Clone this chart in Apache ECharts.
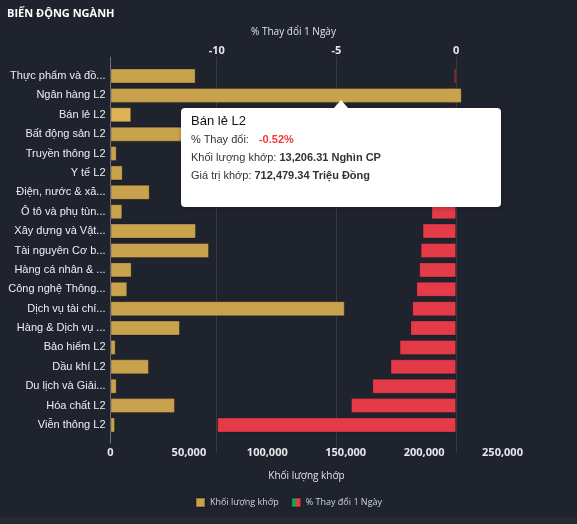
<!DOCTYPE html>
<html><head><meta charset="utf-8">
<script src="https://cdn.jsdelivr.net/npm/echarts@6/dist/echarts.min.js"></script>
<style>
html,body{margin:0;padding:0;background:#262a33;}
#chart{width:577px;height:517px;background:#1f232d;}
</style></head><body><div id="chart"></div>
<script>
const categories = ["Thực phẩm và đồ uống L2","Ngân hàng L2","Bán lẻ L2","Bất động sản L2","Truyền thông L2","Y tế L2","Điện, nước & xăng dầu khí đốt L2","Ô tô và phụ tùng L2","Xây dựng và Vật liệu L2","Tài nguyên Cơ bản L2","Hàng cá nhân & Gia dụng L2","Công nghệ Thông tin L2","Dịch vụ tài chính L2","Hàng & Dịch vụ Công nghiệp L2","Bảo hiểm L2","Dầu khí L2","Du lịch và Giải trí L2","Hóa chất L2","Viễn thông L2"];
const volume = [54300, 224000, 13206.31, 180000, 3950, 7780, 25000, 7530, 54500, 62800, 13500, 10700, 149400, 44300, 3300, 24500, 3950, 41100, 2870];
const change = [-0.09, -0.30, -0.52, -0.61, -0.74, -0.86, -0.97, -1.03, -1.40, -1.48, -1.54, -1.66, -1.83, -1.91, -2.36, -2.74, -3.50, -4.39, -9.98];
const tradeValue = [null, null, 712479.34, null, null, null, null, null, null, null, null, null, null, null, null, null, null, null, null];
const volumeTicks = [0, 50000, 100000, 150000, 200000, 250000];
const changeTicks = [-15, -10, -5, 0];

const GOLD = '#c9a24e', RED = '#e33b48', GREEN = '#1e9e5b';
const fmt2 = v => v == null ? '-' : v.toLocaleString('en-US', {minimumFractionDigits: 2, maximumFractionDigits: 2});
const shortName = s => s.length > 15 ? s.slice(0, 15) + '...' : s;

const chart = echarts.init(document.getElementById('chart'));
const option = {
  animation: false,
  title: {text: 'BIẾN ĐỘNG NGÀNH', left: 2, top: 3,
    textStyle: {color: '#ffffff', fontSize: 11, fontWeight: 'bold', fontFamily: 'Open Sans'}},
  legend: {
    top: 492, left: 'center', itemWidth: 9, itemHeight: 9, itemGap: 12,
    textStyle: {color: '#d0d4da', fontSize: 9, fontFamily: 'Open Sans'},
    data: [
      {name: 'Khối lượng khớp', icon: 'rect', itemStyle: {color: GOLD}},
      {name: '% Thay đổi 1 Ngày', icon: 'rect', itemStyle: {color: new echarts.graphic.LinearGradient(0, 0, 1, 0, [
        {offset: 0, color: GREEN}, {offset: 0.5, color: GREEN}, {offset: 0.5, color: RED}, {offset: 1, color: RED}])}}
    ]
  },
  tooltip: {
    trigger: 'axis', axisPointer: {type: 'none'}, alwaysShowContent: true, transitionDuration: 0,
    backgroundColor: '#ffffff', borderWidth: 0, padding: [4, 10, 23, 10],
    textStyle: {color: '#333', fontSize: 11, fontFamily: 'Liberation Sans'},
    extraCssText: 'width:300px;border-radius:4px;box-shadow:0 1px 4px rgba(0,0,0,0.25);',
    position: function (point, params, dom, rect, size) {
      return [point[0] - size.contentSize[0] / 2, point[1] + 2];
    },
    formatter: function (params) {
      const arr = Array.isArray(params) ? params : [params];
      const p = arr.find(x => x && x.dataIndex != null);
      if (!p) return '';
      const i = p.dataIndex;
      const c = change[i];
      return '<div style="position:absolute;left:50%;top:-8px;margin-left:-7px;width:0;height:0;border-left:7px solid transparent;border-right:7px solid transparent;border-bottom:8px solid #fff;"></div>' +
        '<div style="font-size:13px;line-height:18px;color:#111;">' + categories[i] + '</div>' +
        '<div style="line-height:18px;">% Thay đổi: <span style="margin-left:7px;color:' + (c < 0 ? '#ef3b3b' : GREEN) + ';font-weight:bold;">' + c.toFixed(2) + '%</span></div>' +
        '<div style="line-height:18px;">Khối lượng khớp: <b>' + fmt2(volume[i]) + ' Nghìn CP</b></div>' +
        '<div style="line-height:18px;">Giá trị khớp: <b>' + fmt2(tradeValue[i]) + ' Triệu Đồng</b></div>';
    }
  },
  grid: [
    {left: 110.5, right: 74.5, top: 66.3, height: 368.4},
    {left: 97, right: 73, top: 66.3, height: 368.4},
    {left: 97, right: 73, top: 57, height: 396},
    {left: 110.5, right: 74.5, top: 57, height: 386}
  ],
  xAxis: [
    {gridIndex: 0, type: 'value', position: 'bottom', min: volumeTicks[0], max: volumeTicks[volumeTicks.length - 1],
      interval: volumeTicks[1] - volumeTicks[0],
      name: 'Khối lượng khớp', nameLocation: 'middle', nameGap: 36,
      nameTextStyle: {color: '#dfe3e8', fontSize: 10, fontFamily: 'Open Sans'},
      axisLine: {show: false, onZero: false}, axisTick: {show: false}, splitLine: {show: false},
      axisLabel: {color: '#e6e8eb', fontSize: 11, fontWeight: 'bold', fontFamily: 'Open Sans', margin: 13,
        formatter: v => v.toLocaleString('en-US')}},
    {gridIndex: 1, type: 'value', min: changeTicks[0], max: 2, show: false, axisLine: {onZero: false}},
    {gridIndex: 2, type: 'value', position: 'top', min: changeTicks[0], max: 2, interval: changeTicks[1] - changeTicks[0],
      name: '% Thay đổi 1 Ngày', nameLocation: 'middle', nameGap: 20,
      nameTextStyle: {color: '#dfe3e8', fontSize: 10, fontFamily: 'Open Sans', padding: [0, 14, 0, 0]},
      axisLine: {show: false, onZero: false}, axisTick: {show: false},
      axisLabel: {color: '#e6e8eb', fontSize: 11, fontWeight: 'bold', fontFamily: 'Open Sans', margin: 1,
        showMinLabel: false, showMaxLabel: false},
      splitLine: {show: true, showMinLine: false, showMaxLine: false, lineStyle: {color: '#363b47', width: 1}}},
    {gridIndex: 3, type: 'value', show: false, axisLine: {onZero: false}}
  ],
  yAxis: [
    {gridIndex: 0, type: 'category', data: categories, inverse: true,
      axisLine: {show: false}, axisTick: {show: false},
      axisLabel: {color: '#eceef1', fontSize: 11, fontFamily: 'Liberation Sans', margin: 5, formatter: shortName}},
    {gridIndex: 1, type: 'category', data: categories, inverse: true, show: false},
    {gridIndex: 2, type: 'value', show: false, axisLine: {onZero: false}},
    {gridIndex: 3, type: 'category', data: [], axisLabel: {show: false}, axisTick: {show: false}, splitLine: {show: false},
      axisLine: {show: true, onZero: false, lineStyle: {color: '#6b7180', width: 1}}}
  ],
  series: [
    {name: '% Thay đổi 1 Ngày', type: 'bar', xAxisIndex: 1, yAxisIndex: 1, data: change, barWidth: 15,
      itemStyle: {color: p => p.value < 0 ? RED : GREEN, borderColor: 'rgba(0,0,0,0.2)', borderWidth: 1}},
    {name: 'Khối lượng khớp', type: 'bar', xAxisIndex: 0, yAxisIndex: 0, data: volume, barWidth: 15,
      itemStyle: {color: GOLD, borderColor: 'rgba(0,0,0,0.25)', borderWidth: 1}}
  ]
};
chart.setOption(option);
chart.dispatchAction({type: 'showTip', x: 341, y: 106});
</script></body></html>
